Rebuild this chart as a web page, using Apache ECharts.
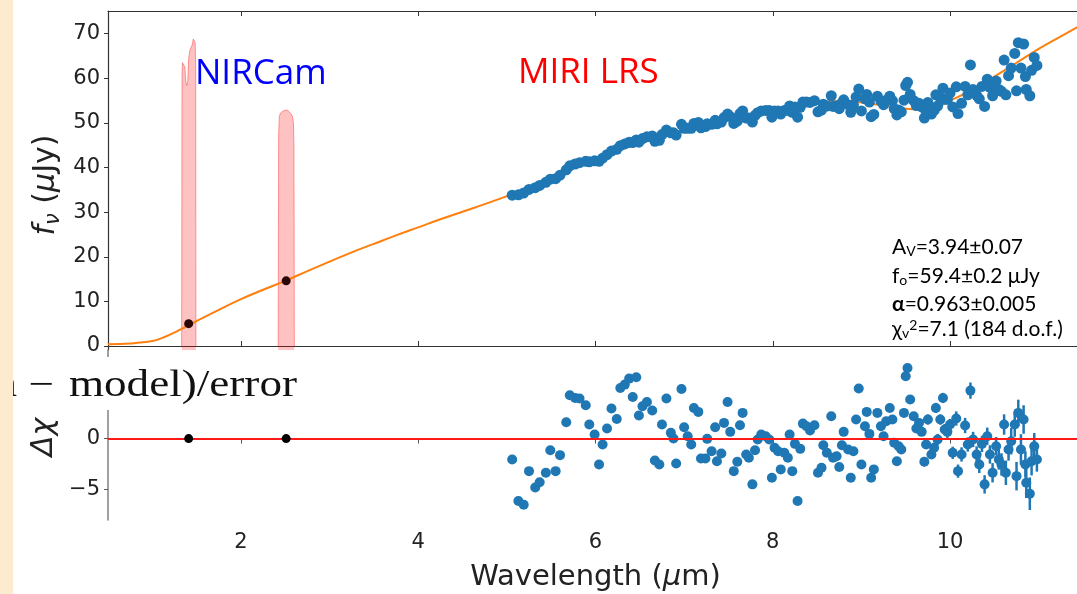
<!DOCTYPE html>
<html>
<head>
<meta charset="utf-8">
<style>
  html, body { margin: 0; padding: 0; background: #fff; }
  #chart { width: 1077px; height: 594px; }
</style>
<script src="https://cdn.jsdelivr.net/npm/echarts@6.0.0/dist/echarts.min.js"></script>
</head>
<body>
<div id="chart"></div>
<script>
const xTicks = [2, 4, 6, 8, 10]
const fluxTicks = [0, 10, 20, 30, 40, 50, 60, 70]
const residTicks = [-5, 0, 5]

// MIRI LRS spectrum (wavelength in um, flux in uJy, residual in sigma)
const miriWave = [
    5.06, 5.13, 5.19, 5.25, 5.32, 5.37, 5.44, 5.49, 5.55, 5.60,
    5.67, 5.71, 5.77, 5.82, 5.89, 5.93, 5.99, 6.04, 6.08, 6.13,
    6.18, 6.24, 6.28, 6.33, 6.38, 6.42, 6.46, 6.49, 6.53, 6.58,
    6.64, 6.67, 6.72, 6.75, 6.80, 6.85, 6.88, 6.91, 6.97, 7.00,
    7.04, 7.08, 7.11, 7.16, 7.19, 7.24, 7.26, 7.31, 7.35, 7.37,
    7.42, 7.45, 7.49, 7.52, 7.56, 7.60, 7.63, 7.66, 7.70, 7.73,
    7.77, 7.80, 7.83, 7.87, 7.92, 7.96, 7.99, 8.02, 8.06, 8.09,
    8.13, 8.17, 8.19, 8.22, 8.25, 8.28, 8.31, 8.34, 8.38, 8.42,
    8.47, 8.51, 8.55, 8.57, 8.61, 8.66, 8.68, 8.72, 8.75, 8.78,
    8.80, 8.85, 8.88, 8.91, 8.94, 8.97, 9.00, 9.04, 9.06, 9.09,
    9.11, 9.14, 9.18, 9.22, 9.25, 9.28, 9.32, 9.35, 9.37, 9.40,
    9.42, 9.45, 9.48, 9.50, 9.52, 9.55, 9.59, 9.62, 9.65, 9.68,
    9.71, 9.73, 9.75, 9.79, 9.82, 9.84, 9.86, 9.89, 9.92, 9.94,
    9.97, 10.00, 10.03, 10.07, 10.09, 10.13, 10.17, 10.20, 10.23, 10.26,
    10.30, 10.33, 10.36, 10.39, 10.42, 10.45, 10.48, 10.52, 10.55, 10.58,
    10.61, 10.63, 10.66, 10.69, 10.73, 10.75, 10.77, 10.80, 10.83, 10.85,
    10.86, 10.90, 10.92, 10.95, 10.98,
]
const miriFlux = [
    33.8, 33.9, 34.3, 35.1, 35.5, 36.0, 36.7, 37.4, 37.5, 38.3,
    39.5, 40.4, 40.8, 41.1, 41.4, 41.3, 41.5, 41.4, 42.1, 42.9,
    43.7, 44.1, 44.9, 45.3, 45.7, 45.6, 46.2, 45.7, 46.5, 46.9,
    47.1, 45.9, 46.1, 47.4, 48.4, 47.8, 47.8, 47.3, 49.7, 48.8,
    48.8, 48.8, 49.9, 50.1, 48.9, 49.2, 49.8, 49.7, 50.6, 49.8,
    50.2, 51.2, 52.0, 51.4, 49.9, 50.4, 52.1, 52.7, 51.1, 51.1,
    50.2, 51.7, 52.3, 52.7, 52.8, 52.8, 51.3, 52.7, 52.7, 52.0,
    52.8, 52.8, 53.8, 52.4, 53.6, 51.3, 53.5, 54.7, 54.7, 54.6,
    55.0, 52.5, 52.9, 54.2, 53.8, 56.1, 53.7, 53.8, 53.2, 54.5,
    55.2, 54.1, 52.4, 54.0, 55.8, 57.6, 52.7, 55.4, 56.4, 54.7,
    51.4, 51.9, 56.0, 54.9, 54.1, 55.1, 56.0, 55.0, 53.2, 51.8,
    52.9, 52.5, 55.1, 58.4, 59.1, 56.4, 55.0, 53.9, 54.4, 53.6,
    51.1, 52.5, 54.6, 52.0, 52.8, 56.3, 53.8, 55.7, 57.8, 55.3,
    55.3, 56.7, 53.6, 58.1, 52.1, 54.4, 58.2, 56.3, 63.0, 57.5,
    56.2, 55.4, 58.2, 53.7, 59.8, 58.0, 56.1, 59.4, 57.5, 57.1,
    64.1, 56.3, 60.6, 62.3, 65.6, 57.2, 68.0, 62.3, 67.7, 60.4,
    57.5, 56.1, 61.8, 64.7, 62.9,
]
const miriResid = [
    -2.05, -6.14, -6.5, -3.2, -4.8, -4.3, -3.36, -1.14, -3.2, -1.63,
    1.6, 4.25, 3.99, 3.93, 3.27, 1.38, 0.4, -2.54, -0.58, 0.98,
    2.95, 1.93, 4.97, 5.3, 5.89, 4.09, 6.02, 2.26, 3.17, 3.6,
    2.75, -2.15, -2.54, 1.38, 3.93, 0.56, 0.0, -2.45, 4.87, 1.12,
    0.23, -0.58, 3.01, 2.62, -1.96, -1.96, -0.03, -1.24, 1.12, -2.22,
    -1.47, 1.54, 3.6, 0.66, -3.2, -2.28, 1.31, 2.52, -1.56, -1.89,
    -4.5, -1.14, -0.09, 0.4, 0.23, -0.09, -3.85, -0.91, -1.24, -3.03,
    -1.4, -1.89, 0.4, -3.2, -0.52, -6.14, -1.01, 1.47, 1.21, 0.79,
    1.31, -3.36, -2.87, -0.65, -1.4, 2.19, -1.89, -1.73, -2.8, -0.65,
    0.66, -1.07, -3.85, -1.24, 1.87, 4.91, -2.54, 1.21, 2.62, 0.46,
    -3.85, -3.03, 2.52, 1.21, 0.23, 1.7, 3.01, 1.87, -0.42, -2.22,
    -0.75, -1.07, 2.52, 6.12, 6.93, 3.83, 2.19, 0.98, 1.54, 0.66,
    -2.28, -0.58, 1.87, -1.56, -0.91, 3.01, -0.09, 1.87, 3.99, 0.89,
    0.66, 1.38, -1.4, 1.97, -3.2, -1.56, 1.28, -0.58, 4.71, -0.09,
    -1.56, -2.54, -0.52, -4.5, 0.23, -1.56, -3.36, -0.75, -2.05, -2.54,
    1.38, -3.36, -1.07, -0.26, 1.38, -3.69, 2.52, -1.07, 1.87, -2.54,
    -4.34, -5.42, -2.22, -0.75, -2.05,
]

// error bars are only visible at the long-wavelength end (from index errStart on)
const errStart = 108
const fluxErr = [
    0.2, 0.2, 0.2, 0.25, 0.25, 0.3, 0.25, 0.3, 0.25, 0.3, 0.3, 0.3,
    0.35, 0.3, 0.35, 0.3, 0.35, 0.35, 0.4, 0.35, 0.35, 0.4, 0.4, 0.4,
    0.45, 0.5, 0.45, 0.5, 0.55, 0.5, 0.55, 0.55, 0.6, 0.6, 0.55, 0.65, 0.6, 0.65, 0.7, 0.65,
    0.7, 0.8, 0.75, 0.85, 0.8, 0.9, 0.85, 1.0, 0.9, 1.1, 1.0, 0.95, 1.1, 1.2, 1.0, 0.95, 0.9,
]
const residErr = [
    0.3, 0.3, 0.3, 0.35, 0.35, 0.4, 0.4, 0.4, 0.35, 0.4, 0.45, 0.4,
    0.45, 0.4, 0.5, 0.45, 0.5, 0.5, 0.55, 0.5, 0.5, 0.55, 0.6, 0.55,
    0.6, 0.7, 0.65, 0.7, 0.75, 0.7, 0.8, 0.75, 0.8, 0.85, 0.8, 0.9, 0.85, 0.9, 0.95, 0.9,
    1.0, 1.1, 1.0, 1.2, 1.1, 1.3, 1.2, 1.4, 1.3, 1.5, 1.4, 1.3, 1.5, 1.6, 1.4, 1.3, 1.2,
]

// best-fit model curve
const modelWave = [
    0.5, 0.75, 1.0, 1.125, 1.25, 1.375, 1.5, 1.75, 2.0, 2.25, 2.5, 2.75, 3.0, 3.25, 3.5, 3.75, 4.0,
    4.25, 4.5, 4.75, 5.0, 5.25, 5.5, 5.75, 6.0, 6.25, 6.5, 6.75, 7.0, 7.25, 7.5, 7.75,
    8.0, 8.25, 8.5, 8.75, 9.0, 9.25, 9.5, 9.75, 10.0, 10.25, 10.5, 10.75, 11.0, 11.25, 11.5,
]
const modelFlux = [
    0.4, 0.55, 1.1, 1.9, 3.0, 4.3, 5.6, 8.1, 10.5, 12.6, 14.6, 16.8, 18.9, 21.0, 22.9, 24.8, 26.6,
    28.4, 30.1, 31.8, 33.6, 35.5, 37.6, 40.0, 41.5, 43.8, 45.4, 47.0, 48.5, 49.8, 51.0, 52.0,
    53.0, 53.8, 54.5, 54.9, 54.6, 53.9, 53.2, 53.0, 55.0, 57.5, 60.4, 63.5, 66.6, 69.4, 72.2,
]

// NIRCam photometry and filter curves
const nircamWave = [1.41, 2.51]
const nircamFlux = [5.0, 14.6]
const nircamResid = [0, 0]
const band1Wave = [1.331, 1.335, 1.340, 1.355, 1.368, 1.378, 1.390, 1.400, 1.410, 1.425, 1.440, 1.450, 1.462, 1.475, 1.484, 1.489, 1.492]
const band1Flux = [0, 61.0, 63.5, 63.8, 62.5, 59.0, 58.4, 59.5, 64.5, 66.4, 66.0, 67.5, 68.8, 69.0, 68.0, 62.0, 0]
const band2Wave = [2.420, 2.425, 2.432, 2.445, 2.465, 2.485, 2.505, 2.525, 2.545, 2.565, 2.580, 2.592, 2.598, 2.602]
const band2Flux = [0, 47.0, 51.4, 52.2, 52.0, 52.8, 52.4, 52.9, 52.5, 52.0, 51.5, 50.0, 45.0, 0]

const BLUE = '#1f77b4'
const TICK_FONT = { fontFamily: 'DejaVu Sans', fontSize: 21, color: '#222' }
const minus = (v) => (v < 0 ? '\u2212' + Math.abs(v) : String(v))

const pairs = (xs, ys) => xs.map((x, i) => [x, ys[i]])
const errTriples = (ys, errs) => errs.map((e, k) => [miriWave[errStart + k], ys[errStart + k], e])

const renderErrBar = (params, api) => {
    const x = api.value(0)
    const y = api.value(1)
    const e = api.value(2)
    const p1 = api.coord([x, y - e])
    const p2 = api.coord([x, y + e])
    return {
        type: 'line',
        shape: { x1: p1[0], y1: p1[1], x2: p2[0], y2: p2[1] },
        style: { stroke: BLUE, lineWidth: 2.5 },
    }
}

const topXAxis = (position) => ({
    type: 'value',
    gridIndex: 0,
    position,
    min: 0.5,
    max: 11.5,
    axisLine: { show: true, lineStyle: { color: '#333', width: 1.2 } },
    axisTick: { show: true, inside: true, length: 5, customValues: xTicks, lineStyle: { color: '#333' } },
    axisLabel: { show: false },
    splitLine: { show: false },
})

const bandSeries = (name, xs, ys) => ({
    name,
    type: 'line',
    xAxisIndex: 0,
    yAxisIndex: 0,
    data: pairs(xs, ys),
    symbol: 'none',
    lineStyle: { color: 'rgba(255,60,60,0.5)', width: 1 },
    areaStyle: { color: 'rgba(255,0,0,0.34)', origin: 'start' },
    silent: true,
    z: 1,
})

const chart = echarts.init(document.getElementById('chart'), null, { renderer: 'canvas' })

const option = {
    animation: false,
    backgroundColor: '#fff',
    grid: [
        { left: 108, top: 11, right: -6, height: 339, outerBoundsMode: 'none', containLabel: false },
        { left: 108, top: 350, right: -6, height: 170, outerBoundsMode: 'none', containLabel: false },
    ],
    xAxis: [
        topXAxis('bottom'),
        topXAxis('top'),
        {
            type: 'value',
            gridIndex: 1,
            min: 0.5,
            max: 11.5,
            axisLine: { show: true, lineStyle: { color: '#808080', width: 1.5 } },
            axisTick: { show: true, length: 5, customValues: xTicks, lineStyle: { color: '#555' } },
            axisLabel: { ...TICK_FONT, margin: 12, customValues: xTicks },
            splitLine: { show: false },
            name: '{n|Wavelength (}{i|\u03bc}{n|m)}',
            nameLocation: 'middle',
            nameGap: 43,
            nameTextStyle: {
                rich: {
                    n: { fontFamily: 'DejaVu Sans', fontSize: 29, color: '#222' },
                    i: { fontFamily: 'DejaVu Sans', fontStyle: 'italic', fontSize: 29, color: '#222' },
                },
            },
        },
    ],
    yAxis: [
        {
            type: 'value',
            gridIndex: 0,
            min: -0.9,
            max: 75.1,
            axisLine: { show: true, lineStyle: { color: '#333', width: 1.2 } },
            axisTick: { show: true, length: 4, customValues: fluxTicks, lineStyle: { color: '#333' } },
            axisLabel: { ...TICK_FONT, margin: 8, customValues: fluxTicks },
            splitLine: { show: false },
        },
        {
            type: 'value',
            gridIndex: 1,
            min: -8,
            max: 8.7,
            axisLine: { show: true, lineStyle: { color: '#808080', width: 1.5 } },
            axisTick: { show: true, length: 4, customValues: residTicks, lineStyle: { color: '#555' } },
            axisLabel: { ...TICK_FONT, margin: 8, customValues: residTicks, formatter: minus },
            splitLine: { show: false },
        },
    ],
    series: [
        bandSeries('F140M', band1Wave, band1Flux),
        bandSeries('F250M', band2Wave, band2Flux),
        {
            name: 'model',
            type: 'line',
            xAxisIndex: 0,
            yAxisIndex: 0,
            data: pairs(modelWave, modelFlux),
            symbol: 'none',
            smooth: 0.4,
            lineStyle: { color: '#ff7f0e', width: 2 },
            z: 2,
        },
        {
            name: 'MIRI LRS',
            type: 'scatter',
            xAxisIndex: 0,
            yAxisIndex: 0,
            data: pairs(miriWave, miriFlux),
            symbolSize: 11,
            itemStyle: { color: BLUE, opacity: 1 },
            z: 3,
        },
        {
            name: 'MIRI LRS err',
            type: 'custom',
            xAxisIndex: 0,
            yAxisIndex: 0,
            data: errTriples(miriFlux, fluxErr),
            encode: { x: 0, y: 1 },
            renderItem: renderErrBar,
            z: 3,
        },
        {
            name: 'NIRCam',
            type: 'scatter',
            xAxisIndex: 0,
            yAxisIndex: 0,
            data: pairs(nircamWave, nircamFlux),
            symbolSize: 9,
            itemStyle: { color: '#2b0505', opacity: 1 },
            z: 5,
        },
        {
            name: 'residual',
            type: 'scatter',
            xAxisIndex: 2,
            yAxisIndex: 1,
            data: pairs(miriWave, miriResid),
            symbolSize: 10,
            itemStyle: { color: BLUE, opacity: 1 },
            z: 3,
        },
        {
            name: 'residual err',
            type: 'custom',
            xAxisIndex: 2,
            yAxisIndex: 1,
            data: errTriples(miriResid, residErr),
            encode: { x: 0, y: 1 },
            renderItem: renderErrBar,
            z: 3,
        },
        {
            name: 'zero',
            type: 'line',
            xAxisIndex: 2,
            yAxisIndex: 1,
            data: [],
            z: 4,
            markLine: {
                silent: true,
                symbol: 'none',
                label: { show: false },
                lineStyle: { color: '#ff1a1a', width: 2.2, type: 'solid' },
                data: [{ yAxis: 0 }],
            },
        },
        {
            name: 'NIRCam residual',
            type: 'scatter',
            xAxisIndex: 2,
            yAxisIndex: 1,
            data: pairs(nircamWave, nircamResid),
            symbolSize: 9,
            itemStyle: { color: '#000', opacity: 1 },
            z: 5,
        },
    ],
    graphic: [
        {
            type: 'text',
            x: 195,
            y: 74,
            z: 50,
            style: { text: 'NIRCam', fill: '#0000ff', font: '35px "Open Sans"', textAlign: 'left', textVerticalAlign: 'middle' },
        },
        {
            type: 'text',
            x: 518,
            y: 73,
            z: 50,
            style: { text: 'MIRI LRS', fill: '#ff0000', font: '35px "Open Sans"', textAlign: 'left', textVerticalAlign: 'middle' },
        },
        // fit summary
        ...[
            ['A{s|V}=3.94\u00b10.07', 247],
            ['f{s|o}=59.4\u00b10.2 \u03bcJy', 276],
            ['{b|\u03b1}=0.963\u00b10.005', 304],
            ['\u03c7{s|v}{p|2}=7.1 (184 d.o.f.)', 329],
        ].map(([text, y]) => ({
            type: 'text',
            x: 892,
            y,
            z: 50,
            style: {
                text,
                fill: '#000',
                fontFamily: 'Lato',
                fontSize: 21,
                lineHeight: 22,
                textAlign: 'left',
                textVerticalAlign: 'middle',
                rich: {
                    s: { fontFamily: 'Lato', fontSize: 14, lineHeight: 14, verticalAlign: 'bottom' },
                    p: { fontFamily: 'Lato', fontSize: 14, lineHeight: 14, verticalAlign: 'top' },
                    b: { fontFamily: 'Lato', fontSize: 21, lineHeight: 22, fontWeight: 'bold' },
                },
            },
        })),
        {
            type: 'text',
            x: 46,
            y: 185,
            rotation: Math.PI / 2,
            z: 50,
            style: {
                text: '{i|f}{s|\u03bd}{n| (}{i|\u03bc}{n|Jy)}',
                fill: '#222',
                textAlign: 'center',
                textVerticalAlign: 'middle',
                rich: {
                    i: { fontFamily: 'DejaVu Sans', fontStyle: 'italic', fontSize: 30, lineHeight: 36 },
                    n: { fontFamily: 'DejaVu Sans', fontSize: 30, lineHeight: 36 },
                    s: { fontFamily: 'DejaVu Sans', fontStyle: 'italic', fontSize: 21, lineHeight: 22, verticalAlign: 'bottom' },
                },
            },
        },
        {
            type: 'text',
            x: 44,
            y: 437,
            rotation: Math.PI / 2,
            z: 50,
            style: {
                text: '\u0394\u03c7',
                fill: '#222',
                font: 'italic 30px "DejaVu Sans"',
                textAlign: 'center',
                textVerticalAlign: 'middle',
            },
        },
        // label box of the residual panel, clipped on the left by the page margin
        {
            type: 'rect',
            z: 100,
            shape: { x: 0, y: 357, width: 303, height: 53 },
            style: { fill: '#fff' },
        },
        {
            type: 'text',
            x: 297,
            y: 386,
            scaleX: 1.22,
            z: 101,
            style: {
                text: '(data \u2212 \u200amodel)/error',
                fill: '#111',
                font: '37px "Liberation Serif"',
                textAlign: 'right',
                textVerticalAlign: 'middle',
            },
        },
        {
            type: 'rect',
            z: 102,
            shape: { x: 0, y: 0, width: 13, height: 594 },
            style: { fill: '#fdebd0' },
        },
    ],
}

chart.setOption(option)
</script>
</body>
</html>
